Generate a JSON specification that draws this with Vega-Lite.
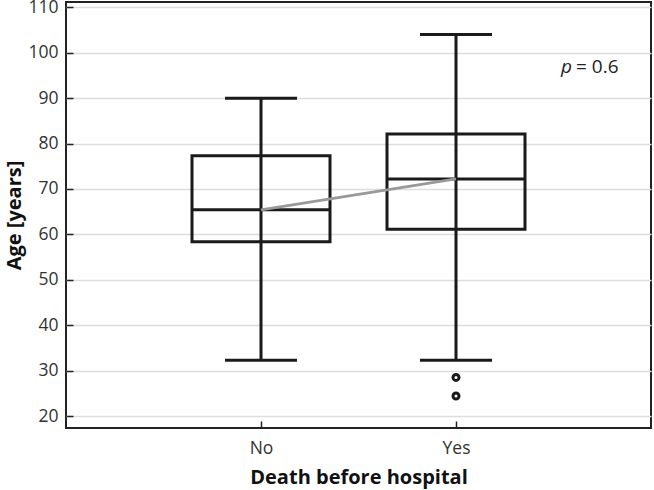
{
  "$schema": "https://vega.github.io/schema/vega-lite/v6.json",
  "width": 585,
  "height": 426,
  "autosize": {"type": "none"},
  "padding": {"left": 66, "top": 2, "right": 3, "bottom": 62},
  "background": "white",
  "config": {
    "font": "Open Sans",
    "view": {"stroke": "#222222", "strokeWidth": 2},
    "axis": {
      "labelFont": "Open Sans",
      "labelFontSize": 17.5,
      "labelColor": "#333333",
      "titleFont": "Open Sans",
      "titleFontSize": 20,
      "titleFontWeight": "bold",
      "titleColor": "#111111",
      "domain": false,
      "tickColor": "#222222",
      "tickWidth": 1.5,
      "gridColor": "#dddddd",
      "gridWidth": 1.5
    }
  },
  "datasets": {
    "boxes": [
      {"group": "No", "min": 32.3, "q1": 58.4, "median": 65.4, "q3": 77.3, "max": 90},
      {"group": "Yes", "min": 32.3, "q1": 61.1, "median": 72.2, "q3": 82.1, "max": 104}
    ],
    "outliers": [
      {"group": "Yes", "age": 28.5},
      {"group": "Yes", "age": 24.4}
    ],
    "notes": [
      {"group": "Yes", "y": 95.5, "p": "p", "rest": "= 0.6"}
    ]
  },
  "encoding": {
    "x": {
      "field": "group",
      "type": "nominal",
      "sort": ["No", "Yes"],
      "scale": {"type": "point", "padding": 1.065, "domain": ["No", "Yes"]},
      "axis": {
        "title": "Death before hospital",
        "labelAngle": 0,
        "tickSize": -7,
        "labelPadding": 18,
        "titlePadding": 11,
        "grid": false
      }
    }
  },
  "layer": [
    {
      "data": {"name": "boxes"},
      "mark": {"type": "rule", "color": "#1a1a1a", "strokeWidth": 3},
      "encoding": {
        "y": {
          "field": "min",
          "type": "quantitative",
          "scale": {"domain": [17.36, 111.17], "nice": false, "zero": false},
          "axis": {
            "title": "Age [years]",
            "values": [20, 25, 30, 35, 40, 45, 50, 55, 60, 65, 70, 75, 80, 85, 90, 95, 100, 105, 110],
            "labelExpr": "datum.value % 10 == 0 ? datum.label : ''",
            "tickSize": {"condition": {"test": "datum.value % 10 != 0", "value": -4}, "value": -7},
            "gridOpacity": {"condition": {"test": "datum.value % 10 != 0", "value": 0}, "value": 1},
            "labelPadding": 15,
            "titlePadding": 3
          }
        },
        "y2": {"field": "max"}
      }
    },
    {
      "data": {"name": "boxes"},
      "mark": {"type": "bar", "width": 138, "fill": "transparent", "stroke": "#1a1a1a", "strokeWidth": 3},
      "encoding": {
        "y": {"field": "q1", "type": "quantitative"},
        "y2": {"field": "q3"}
      }
    },
    {
      "data": {"name": "boxes"},
      "mark": {"type": "tick", "size": 138, "thickness": 3, "color": "#1a1a1a", "opacity": 1},
      "encoding": {"y": {"field": "median", "type": "quantitative"}}
    },
    {
      "data": {"name": "boxes"},
      "mark": {"type": "tick", "size": 72, "thickness": 3, "color": "#1a1a1a", "opacity": 1},
      "encoding": {"y": {"field": "min", "type": "quantitative"}}
    },
    {
      "data": {"name": "boxes"},
      "mark": {"type": "tick", "size": 72, "thickness": 3, "color": "#1a1a1a", "opacity": 1},
      "encoding": {"y": {"field": "max", "type": "quantitative"}}
    },
    {
      "data": {"name": "boxes"},
      "mark": {"type": "line", "color": "#999999", "strokeWidth": 2.8},
      "encoding": {"y": {"field": "median", "type": "quantitative"}}
    },
    {
      "data": {"name": "outliers"},
      "mark": {"type": "point", "shape": "circle", "filled": false, "stroke": "#1a1a1a", "strokeWidth": 3, "size": 36, "opacity": 1},
      "encoding": {"y": {"field": "age", "type": "quantitative"}}
    },
    {
      "data": {"name": "notes"},
      "mark": {"type": "text", "align": "left", "baseline": "alphabetic", "dx": 105, "fontSize": 19, "fontStyle": "italic", "color": "#222222"},
      "encoding": {
        "y": {"field": "y", "type": "quantitative"},
        "text": {"field": "p"}
      }
    },
    {
      "data": {"name": "notes"},
      "mark": {"type": "text", "align": "left", "baseline": "alphabetic", "dx": 120, "fontSize": 19, "color": "#222222"},
      "encoding": {
        "y": {"field": "y", "type": "quantitative"},
        "text": {"field": "rest"}
      }
    }
  ]
}
